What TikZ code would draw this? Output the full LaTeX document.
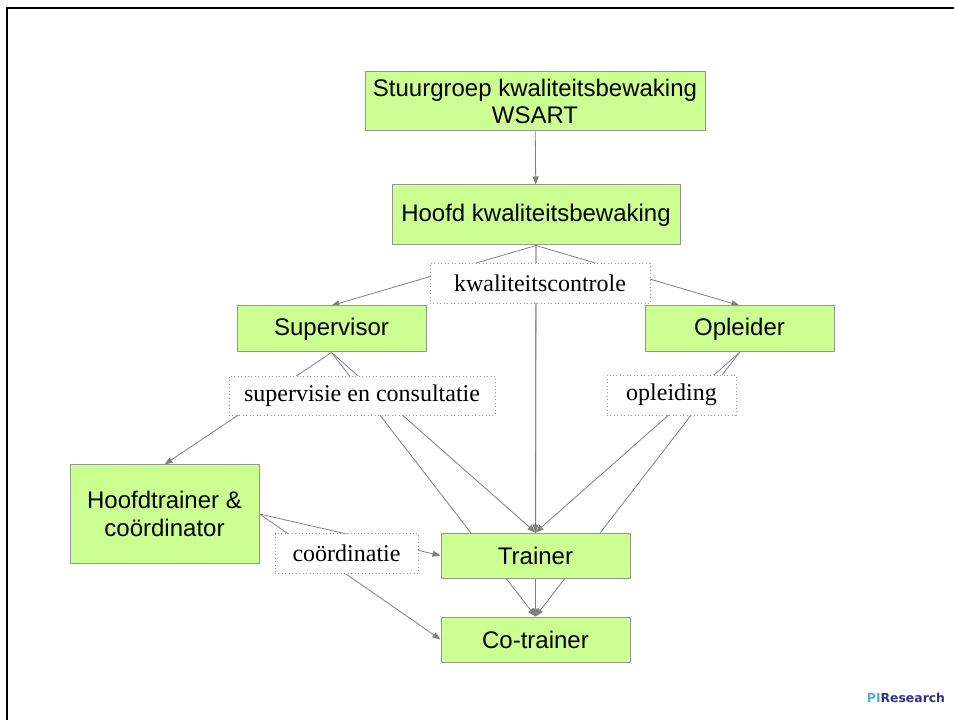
\documentclass[tikz,border=0pt]{standalone}
\usepackage{fontspec}
\setmainfont{Liberation Serif}
\newfontfamily\arialfont{Liberation Sans}
\newfontfamily\logofont{DejaVu Sans}
\usetikzlibrary{arrows.meta,backgrounds}
\definecolor{boxgreen}{RGB}{204,255,145}
\definecolor{boxline}{RGB}{150,150,150}
\definecolor{linegray}{RGB}{128,128,128}
\definecolor{piteal}{RGB}{80,178,190}
\definecolor{pinavy}{RGB}{42,52,132}
\tikzset{
  orgbox/.style={draw=boxline, fill=boxgreen, line width=0.75pt, inner sep=0pt,
    align=center, font=\arialfont\fontsize{18}{20.5}\selectfont},
  tagbox/.style={draw=boxline, fill=white, dotted, line width=0.6pt, inner sep=0pt,
    font=\fontsize{18}{20.5}\selectfont},
  link/.style={draw=linegray, line width=0.6pt, -{Triangle[length=6pt,width=4.5pt,fill=linegray]}},
}
\begin{document}
\begin{tikzpicture}[x=0.75pt, y=-0.75pt]
      \useasboundingbox (0,0) rectangle (954,720);
      \draw[line width=1.9pt] (954,8) -- (7,8) -- (7,720);
      \draw
        (535,101.5) node[orgbox, minimum width=255pt, minimum height=44.25pt] (stuur){Stuurgroep kwaliteitsbewaking\\WSART}
        (536,215) node[orgbox, minimum width=216pt, minimum height=45pt] (hoofd){Hoofd kwaliteitsbewaking}
        (331.5,329) node[orgbox, minimum width=141.75pt, minimum height=34.5pt] (sup){Supervisor}
        (739.5,329) node[orgbox, minimum width=141.75pt, minimum height=34.5pt] (opl){Opleider}
        (164.5,514) node[orgbox, minimum width=141.75pt, minimum height=73.5pt] (hoofdtr){Hoofdtrainer \&\\coördinator}
        (535.5,555.5) node[orgbox, minimum width=141.75pt, minimum height=33.75pt] (trainer){Trainer}
        (535.5,639.5) node[orgbox, minimum width=141.75pt, minimum height=33.75pt] (cotrainer){Co-trainer}
        (540,283.5) node[tagbox, minimum width=165pt, minimum height=30pt] (kwal){kwaliteitscontrole}
        (362,395.5) node[tagbox, minimum width=199.5pt, minimum height=29.25pt] (supcons){supervisie en consultatie}
        (671.5,395) node[tagbox, minimum width=96.75pt, minimum height=30pt] (oplei){opleiding}
        (346.5,553.5) node[tagbox, minimum width=107.25pt, minimum height=30pt] (coord){coördinatie}
        (906,698) node[font=\logofont\bfseries\fontsize{9.3}{10}\selectfont, inner sep=0pt] (logo){\textcolor{piteal}{PI}\textcolor{pinavy}{Research}};
      \begin{scope}[on background layer]
        \draw[link] (stuur) to (hoofd);
        \draw[link] (hoofd.south) to (sup.north);
        \draw[link] (hoofd.south) to (opl.north);
        \draw[link] (hoofd.south) to (trainer.north);
        \draw[link] (hoofd.south) to (cotrainer.north);
        \draw[link] (sup.south) to (hoofdtr.north);
        \draw[link] (sup.south) to (trainer.north);
        \draw[link] (sup.south) to (cotrainer.north);
        \draw[link] (opl.south) to (trainer.north);
        \draw[link] (opl.south) to (cotrainer.north);
        \draw[link] (hoofdtr.east) to (trainer.west);
        \draw[link] (hoofdtr.east) to (cotrainer.west);
      \end{scope}
    \end{tikzpicture}
\end{document}
